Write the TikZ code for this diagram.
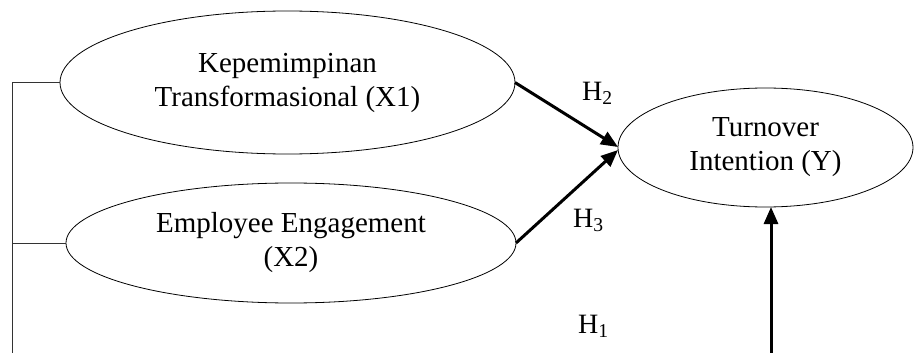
\documentclass[tikz,border=0pt]{standalone}
\usepackage{fontspec}
\setmainfont{Liberation Serif}
\usetikzlibrary{shapes.geometric,arrows.meta}
\begin{document}
\begin{tikzpicture}[x=1pt,y=-1pt,
  latent/.style={ellipse,draw=black,line width=0.8pt,inner sep=0pt,outer sep=0pt,align=center,font=\fontsize{29}{34}\selectfont},
  path/.style={line width=3pt,-{Triangle[length=17pt,width=14pt]}},
  bracket/.style={draw=black!80,line width=0.9pt},
  hyp/.style={anchor=base west,inner sep=0pt,font=\fontsize{28}{34}\selectfont}]
\useasboundingbox (0,0) rectangle (914,353);
\node[latent,minimum width=455pt,minimum height=143pt] (e1) at (287.5,82.5) {Kepemimpinan\\Transformasional (X1)};
\node[latent,minimum width=450pt,minimum height=120pt] (e2) at (291,243) {Employee Engagement\\(X2)};
\node[latent,minimum width=295pt,minimum height=119pt] (e3) at (765.5,147.5) {Turnover\\Intention (Y)};
\coordinate (btop) at (12,82.5);
\coordinate (bbot) at (12,353);
\coordinate (ubot) at (771,353);
\coordinate (t2) at (618,147);
\coordinate (t3) at (618,150);
\draw[bracket] (bbot) -- (btop) -- (e1.west);
\draw[bracket] (btop |- e2.west) -- (e2.west);
\draw[path] (e1.east) -- (t2);
\draw[path] (e2.east) -- (t3);
\draw[path] (ubot) -- (ubot |- e3.south);
\node[hyp] (h2) at (582,100) {H\textsubscript{2}};
\node[hyp] (h3) at (573,227) {H\textsubscript{3}};
\node[hyp] (h1) at (578,333) {H\textsubscript{1}};
\end{tikzpicture}
\end{document}
